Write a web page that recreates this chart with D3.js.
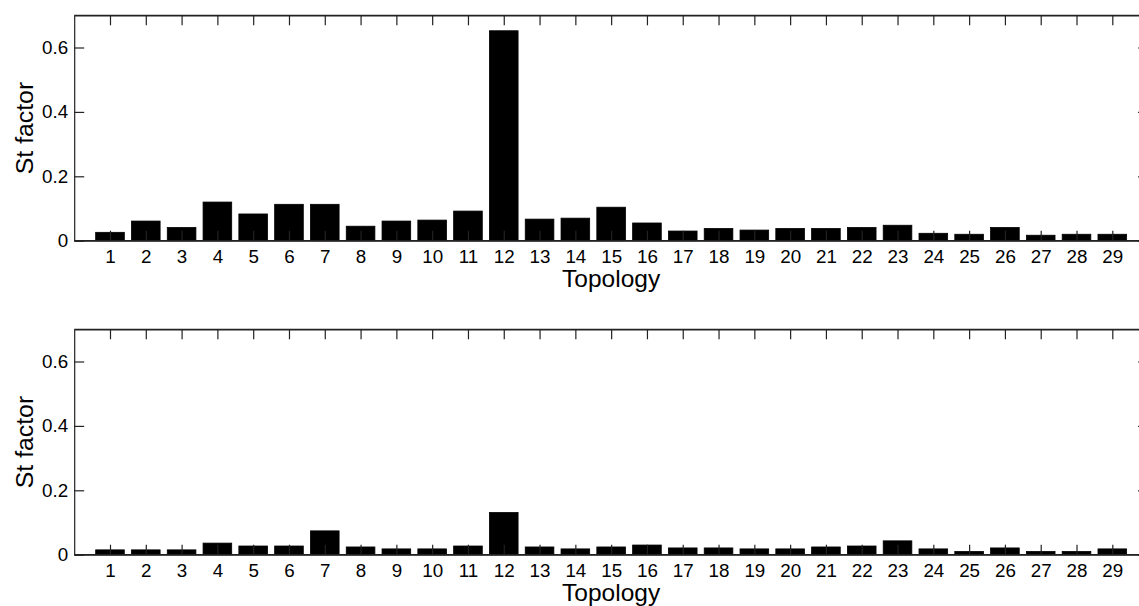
<!DOCTYPE html>
<html>
<head>
<meta charset="utf-8">
<script src="https://cdn.jsdelivr.net/npm/d3@7"></script>
<style>
  html, body { margin: 0; padding: 0; background: #fff; }
  svg { display: block; font-family: "Liberation Sans", Arial, Helvetica, sans-serif; }
</style>
</head>
<body>
<svg id="chart" width="1139" height="606"></svg>
<script>
// ---- data ----
const topologies = d3.range(1, 30);
const stFactorTop = [0.026, 0.061, 0.041, 0.120, 0.083, 0.113, 0.113, 0.045, 0.061, 0.064,
                     0.092, 0.652, 0.067, 0.070, 0.104, 0.055, 0.030, 0.038, 0.033, 0.038,
                     0.038, 0.041, 0.048, 0.023, 0.020, 0.041, 0.017, 0.020, 0.020];
const stFactorBottom = [0.015, 0.015, 0.015, 0.036, 0.027, 0.027, 0.074, 0.024, 0.018, 0.018,
                        0.027, 0.131, 0.024, 0.018, 0.024, 0.030, 0.021, 0.021, 0.018, 0.018,
                        0.024, 0.027, 0.043, 0.018, 0.010, 0.021, 0.010, 0.010, 0.018];
const yTicks = [0, 0.2, 0.4, 0.6];
const yTickLabels = ["0", "0.2", "0.4", "0.6"];
const xLabel = "Topology";
const yLabel = "St factor";

// ---- layout ----
const svg = d3.select("#chart");
const left = 74.2, right = 1148.1;
const x = d3.scaleLinear().domain([0, 30]).range([left, right]);
const panels = [
  { values: stFactorTop, top: 15.3, bottom: 240.7 },
  { values: stFactorBottom, top: 329.3, bottom: 554.7 }
];
const tickLen = 10;
const axisColor = "#222";

panels.forEach(p => {
  const y = d3.scaleLinear().domain([0, 0.7]).range([p.bottom, p.top]);
  const g = svg.append("g");

  // bars
  g.selectAll("rect.bar").data(p.values).join("rect")
    .attr("class", "bar")
    .attr("x", (d, i) => x(topologies[i] - 0.4))
    .attr("width", (d, i) => x(topologies[i] + 0.4) - x(topologies[i] - 0.4))
    .attr("y", d => y(d))
    .attr("height", d => y(0) - y(d))
    .attr("fill", "#000")
    .attr("stroke", "#000")
    .attr("stroke-width", 0.8);

  // bottom axis (ticks pointing inward)
  const xb = g.append("g").attr("transform", `translate(0,${p.bottom})`)
    .call(d3.axisBottom(x).tickValues(topologies).tickFormat(d3.format("d"))
      .tickSizeInner(-tickLen).tickSizeOuter(0));
  xb.selectAll("text").attr("y", 8.5).attr("dy", "0.71em");

  // top axis
  g.append("g").attr("transform", `translate(0,${p.top})`)
    .call(d3.axisTop(x).tickValues(topologies).tickFormat("")
      .tickSizeInner(-tickLen).tickSizeOuter(0));

  // left axis
  g.append("g").attr("transform", `translate(${left},0)`)
    .call(d3.axisLeft(y).tickValues(yTicks).tickFormat((d, i) => yTickLabels[i])
      .tickSizeInner(-tickLen).tickSizeOuter(0).tickPadding(6));

  // right axis
  g.append("g").attr("transform", `translate(${right},0)`)
    .call(d3.axisRight(y).tickValues(yTicks).tickFormat("")
      .tickSizeInner(-tickLen).tickSizeOuter(0));

  g.selectAll(".domain").attr("stroke", axisColor).attr("stroke-width", 1.2);
  g.selectAll(".tick line").attr("stroke", axisColor).attr("stroke-width", 1.2);
  g.selectAll(".tick text").attr("font-size", 18.8).attr("fill", "#000")
    .attr("font-family", "Liberation Sans, Arial, sans-serif");

  // frame lines (box)
  g.append("line").attr("x1", left).attr("x2", right).attr("y1", p.top).attr("y2", p.top)
    .attr("stroke", axisColor).attr("stroke-width", 1.2);
  g.append("line").attr("x1", left).attr("x2", right).attr("y1", p.bottom).attr("y2", p.bottom)
    .attr("stroke", axisColor).attr("stroke-width", 1.2);

  // axis labels
  g.append("text")
    .attr("x", x(15)).attr("y", p.bottom + 46.3)
    .attr("text-anchor", "middle")
    .attr("font-size", 24.5).attr("fill", "#000")
    .text(xLabel);
  g.append("text")
    .attr("transform", `translate(33,${(p.top + p.bottom) / 2}) rotate(-90)`)
    .attr("text-anchor", "middle")
    .attr("font-size", 24.8).attr("fill", "#000")
    .text(yLabel);
});
</script>
</body>
</html>
